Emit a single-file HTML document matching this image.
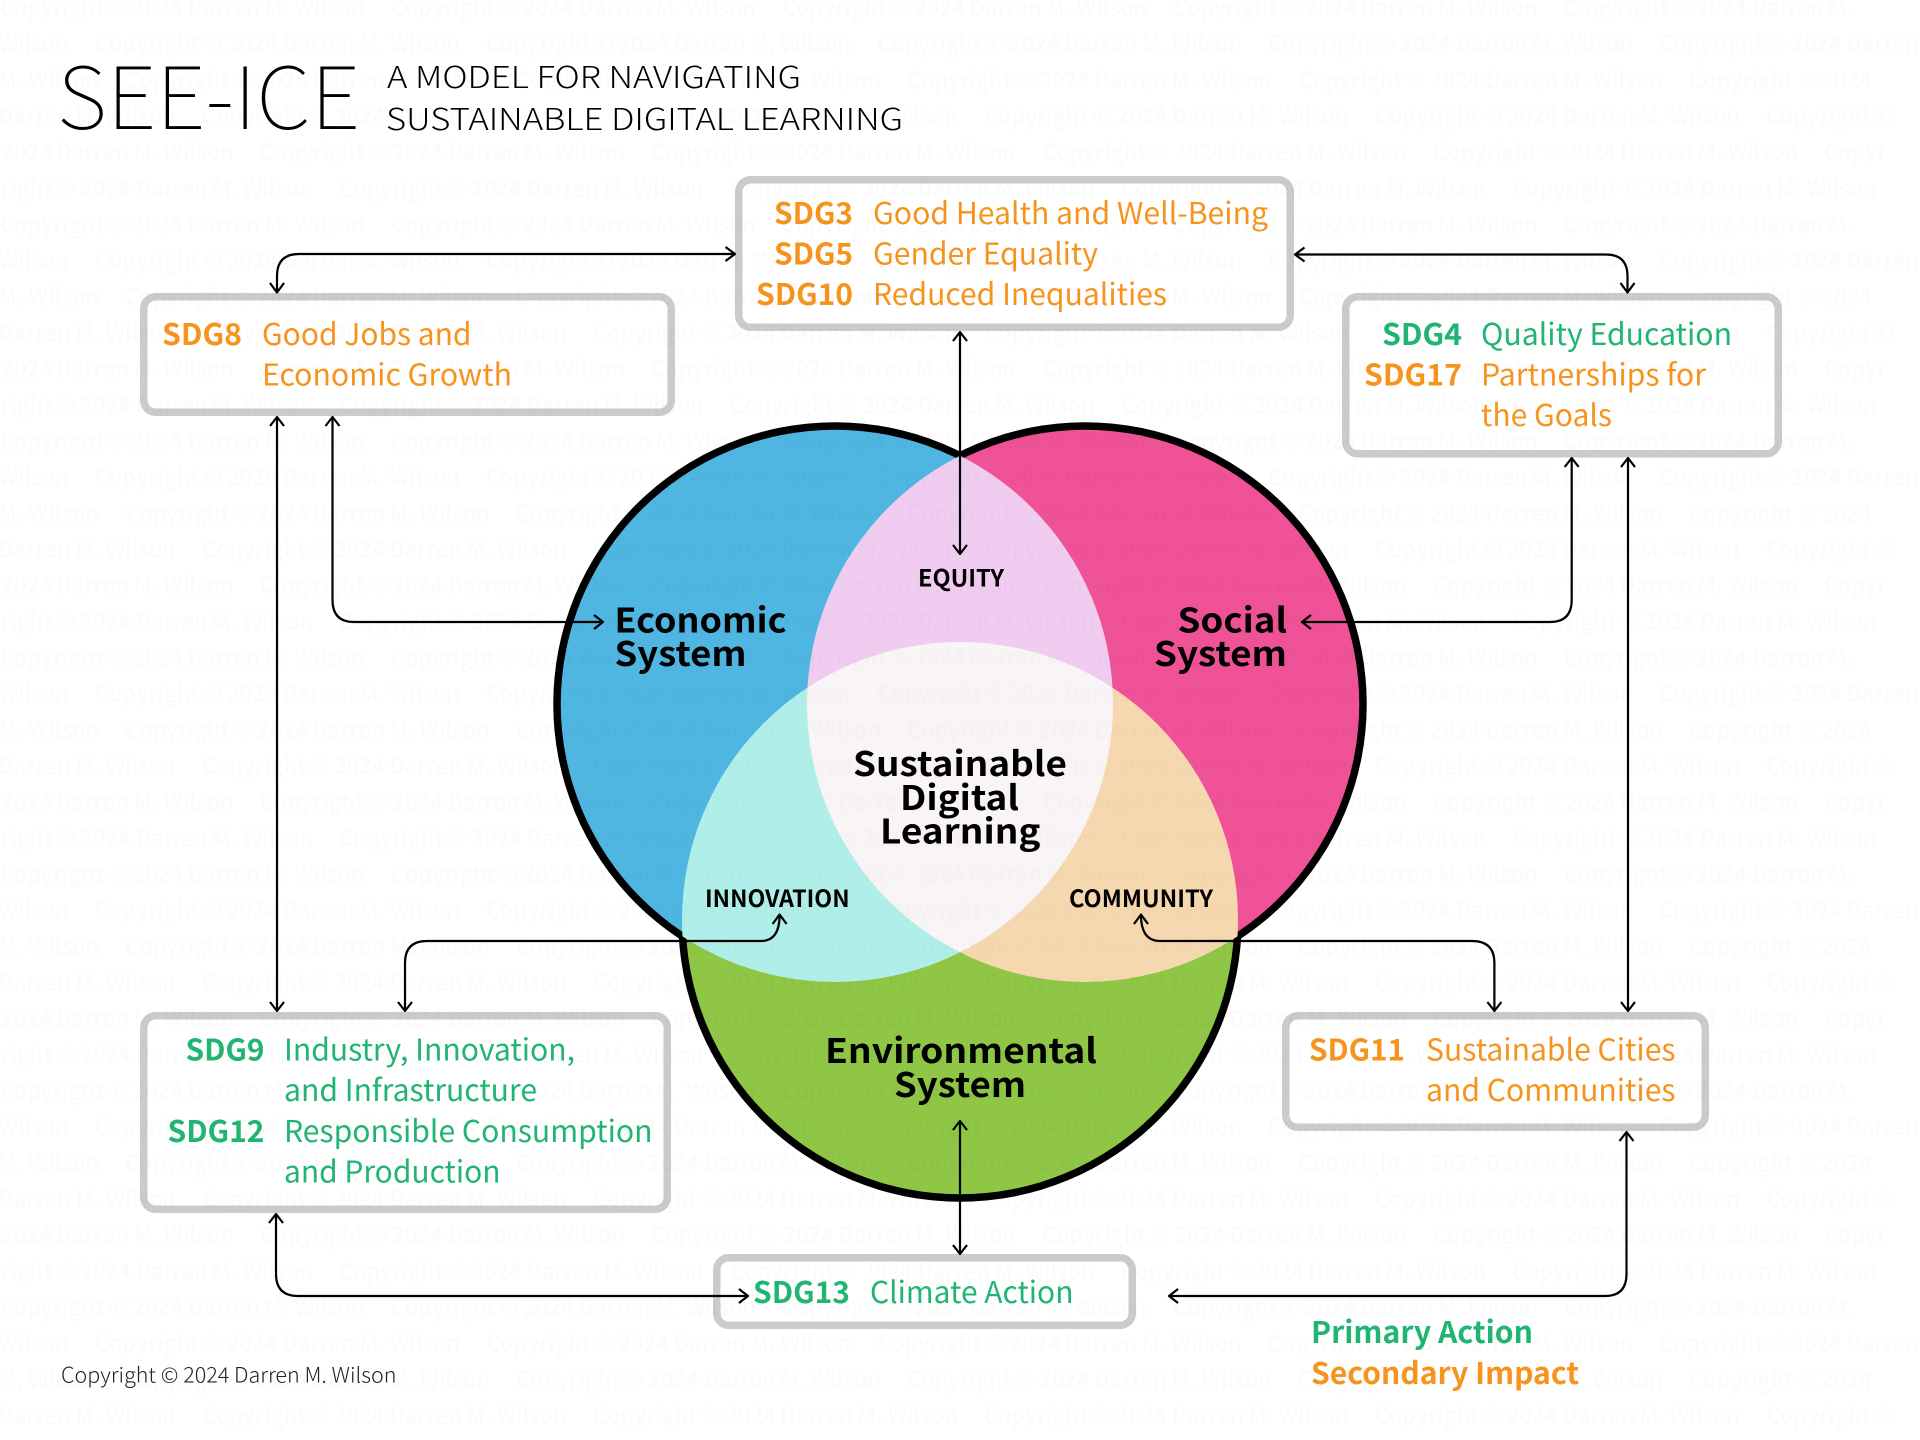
<!DOCTYPE html>
<html lang="en"><head><meta charset="utf-8"><title>SEE-ICE</title>
<style>
html,body{margin:0;padding:0;background:#fff}
svg{display:block}
text{font-family:"Noto Sans CJK JP","Liberation Sans",sans-serif}
.o{fill:#F7941E}.g{fill:#21B573}
.s{font-size:30px}
.b{font-size:30px;font-weight:700;text-anchor:end}
.k{font-size:34px;font-weight:700;fill:#000}
.u{font-size:23.5px;font-weight:700;fill:#000}
.w{font-size:23px;font-weight:700;fill:#000}
</style></head><body>
<svg width="1920" height="1440" viewBox="0 0 1920 1440" xmlns="http://www.w3.org/2000/svg">
<defs>
<clipPath id="cA"><circle cx="835" cy="704" r="278"/></clipPath>
<clipPath id="cB"><circle cx="1085" cy="704" r="278"/></clipPath>
<clipPath id="cC"><circle cx="960" cy="920" r="278"/></clipPath>
<pattern id="wm" patternUnits="userSpaceOnUse" x="0" y="0" width="391" height="216.6">
<text class="w" x="0" y="16" textLength="365" lengthAdjust="spacingAndGlyphs">Copyright © 2024 Darren M. Wilson</text>
<text class="w" x="95" y="52.1" textLength="365" lengthAdjust="spacingAndGlyphs">Copyright © 2024 Darren M. Wilson</text>
<text class="w" x="-296" y="52.1" textLength="365" lengthAdjust="spacingAndGlyphs">Copyright © 2024 Darren M. Wilson</text>
<text class="w" x="125" y="88.2" textLength="365" lengthAdjust="spacingAndGlyphs">Copyright © 2024 Darren M. Wilson</text>
<text class="w" x="-266" y="88.2" textLength="365" lengthAdjust="spacingAndGlyphs">Copyright © 2024 Darren M. Wilson</text>
<text class="w" x="202" y="124.3" textLength="365" lengthAdjust="spacingAndGlyphs">Copyright © 2024 Darren M. Wilson</text>
<text class="w" x="-189" y="124.3" textLength="365" lengthAdjust="spacingAndGlyphs">Copyright © 2024 Darren M. Wilson</text>
<text class="w" x="260" y="160.4" textLength="365" lengthAdjust="spacingAndGlyphs">Copyright © 2024 Darren M. Wilson</text>
<text class="w" x="-131" y="160.4" textLength="365" lengthAdjust="spacingAndGlyphs">Copyright © 2024 Darren M. Wilson</text>
<text class="w" x="339" y="196.5" textLength="365" lengthAdjust="spacingAndGlyphs">Copyright © 2024 Darren M. Wilson</text>
<text class="w" x="-52" y="196.5" textLength="365" lengthAdjust="spacingAndGlyphs">Copyright © 2024 Darren M. Wilson</text>
</pattern>
<pattern id="wmask" patternUnits="userSpaceOnUse" x="0" y="0" width="1920" height="216.6">
<rect x="1855" y="0" width="65" height="27" fill="#fff"/>
<rect x="1871" y="63" width="49" height="36" fill="#fff"/>
<rect x="1893" y="99" width="27" height="36" fill="#fff"/>
<rect x="1883" y="135" width="37" height="36" fill="#fff"/>
<rect x="1877" y="171" width="43" height="45.600" fill="#fff"/>
</pattern>
</defs>
<rect width="1920" height="1440" fill="#fff"/>

<!-- Title -->
<text x="57" y="129" font-size="86" font-weight="100" fill="#000" textLength="303" lengthAdjust="spacingAndGlyphs">SEE-ICE</text>
<text x="387" y="88" font-size="30" font-weight="300" fill="#000" textLength="414" lengthAdjust="spacingAndGlyphs">A MODEL FOR NAVIGATING</text>
<text x="386" y="130" font-size="30" font-weight="300" fill="#000" textLength="517" lengthAdjust="spacingAndGlyphs">SUSTAINABLE DIGITAL LEARNING</text>

<!-- Venn -->
<circle cx="835" cy="704" r="281.75" fill="#000"/>
<circle cx="1085" cy="704" r="281.75" fill="#000"/>
<circle cx="960" cy="920" r="281.75" fill="#000"/>
<circle cx="835" cy="704" r="274.25" fill="#4FB6E1"/>
<circle cx="1085" cy="704" r="274.25" fill="#EF5297"/>
<circle cx="960" cy="920" r="274.25" fill="#8FC645"/>
<g clip-path="url(#cA)"><circle cx="1085" cy="704" r="278" fill="#F0CDF0"/></g>
<g clip-path="url(#cA)"><circle cx="960" cy="920" r="278" fill="#B0EFE9"/></g>
<g clip-path="url(#cB)"><circle cx="960" cy="920" r="278" fill="#F6D8B0"/></g>
<g clip-path="url(#cA)"><g clip-path="url(#cB)"><circle cx="960" cy="920" r="278" fill="#F9F4F5"/></g></g>

<!-- Boxes -->
<g fill="#fff" stroke="#CBCBCB" stroke-width="7.5">
<rect x="738.75" y="179.75" width="551.5" height="147.5" rx="12"/>
<rect x="143.75" y="296.75" width="527.5" height="115.5" rx="12"/>
<rect x="1345.75" y="296.75" width="432.5" height="157" rx="12"/>
<rect x="143.75" y="1015.75" width="523.5" height="193.5" rx="12"/>
<rect x="1285.75" y="1015.75" width="419.5" height="111.5" rx="12"/>
<rect x="716.75" y="1257.75" width="415.5" height="67.5" rx="12"/>
</g>

<!-- Connectors -->
<g fill="none" stroke="#000" stroke-width="2.2" stroke-linejoin="round">
<path d="M277 292V276Q277 254 299 254H735"/><path d="M270 283L277 292.5L284 283M725.500 247L735 254L725.500 261"/>
<path d="M1295 254.500H1606Q1627.500 254.500 1627.500 276V292"/><path d="M1304.500 247.500L1295 254.500L1304.500 261.500M1620.500 283L1627.500 292.500L1634.500 283"/>
<path d="M960 332V554"/><path d="M953 341L960 332L967 341M953 545L960 554L967 545"/>
<path d="M332.500 417V600Q332.500 622 354 622H603"/><path d="M325.500 426L332.500 417L339.500 426M594 615L603 622L594 629"/>
<path d="M277 417V1011"/><path d="M270 426L277 417L284 426M270 1002L277 1011L284 1002"/>
<path d="M1571.700 458V600Q1571.700 622 1550 622H1302"/><path d="M1564.700 467L1571.700 458L1578.700 467M1311 615L1302 622L1311 629"/>
<path d="M1628 458V1011"/><path d="M1621 467L1628 458L1635 467M1621 1002L1628 1011L1635 1002"/>
<path d="M405 1011V963Q405 941 427 941H761Q779.600 941 779.600 915"/><path d="M398 1002L405 1011L412 1002M772.600 924L779.600 914.500L786.600 924"/>
<path d="M1494.400 1011V963Q1494.400 941 1472 941H1160Q1141 941 1141 915"/><path d="M1487.400 1002L1494.400 1011L1501.400 1002M1134 924L1141 914.500L1148 924"/>
<path d="M960 1121V1254"/><path d="M953 1130L960 1121L967 1130M953 1245L960 1254L967 1245"/>
<path d="M276 1214V1274Q276 1296 298 1296H748"/><path d="M269 1223L276 1214L283 1223M739 1289L748 1296L739 1303"/>
<path d="M1626.500 1132V1274Q1626.500 1296 1605 1296H1169"/><path d="M1619.500 1141L1626.500 1132L1633.500 1141M1178 1289L1169 1296L1178 1303"/>
</g>

<!-- SDG3 / 5 / 10 -->
<text class="b o" x="853" y="224" textLength="79" lengthAdjust="spacingAndGlyphs">SDG3</text>
<text class="b o" x="853" y="264.500" textLength="79" lengthAdjust="spacingAndGlyphs">SDG5</text>
<text class="b o" x="853" y="305" textLength="97" lengthAdjust="spacingAndGlyphs">SDG10</text>
<text class="s o" x="873" y="224" textLength="395" lengthAdjust="spacingAndGlyphs">Good Health and Well-Being</text>
<text class="s o" x="873" y="264.500" textLength="225" lengthAdjust="spacingAndGlyphs">Gender Equality</text>
<text class="s o" x="873" y="305" textLength="294" lengthAdjust="spacingAndGlyphs">Reduced Inequalities</text>

<!-- SDG8 -->
<text class="b o" x="242" y="345" textLength="80" lengthAdjust="spacingAndGlyphs">SDG8</text>
<text class="s o" x="262" y="345" textLength="209.500" lengthAdjust="spacingAndGlyphs">Good Jobs and</text>
<text class="s o" x="262" y="385.500" textLength="250" lengthAdjust="spacingAndGlyphs">Economic Growth</text>

<!-- SDG4 / 17 -->
<text class="b g" x="1462" y="345" textLength="80" lengthAdjust="spacingAndGlyphs">SDG4</text>
<text class="s g" x="1481" y="345" textLength="251" lengthAdjust="spacingAndGlyphs">Quality Education</text>
<text class="b o" x="1462" y="385.500" textLength="98" lengthAdjust="spacingAndGlyphs">SDG17</text>
<text class="s o" x="1481" y="385.500" textLength="225" lengthAdjust="spacingAndGlyphs">Partnerships for</text>
<text class="s o" x="1481" y="426" textLength="131" lengthAdjust="spacingAndGlyphs">the Goals</text>

<!-- SDG9 / 12 -->
<text class="b g" x="264.500" y="1060.500" textLength="79" lengthAdjust="spacingAndGlyphs">SDG9</text>
<text class="s g" x="284" y="1060.500" textLength="291" lengthAdjust="spacingAndGlyphs">Industry, Innovation,</text>
<text class="s g" x="284" y="1101" textLength="253" lengthAdjust="spacingAndGlyphs">and Infrastructure</text>
<text class="b g" x="264.500" y="1142" textLength="97" lengthAdjust="spacingAndGlyphs">SDG12</text>
<text class="s g" x="284" y="1142" textLength="368.500" lengthAdjust="spacingAndGlyphs">Responsible Consumption</text>
<text class="s g" x="284" y="1182.500" textLength="216.500" lengthAdjust="spacingAndGlyphs">and Production</text>

<!-- SDG11 -->
<text class="b o" x="1405" y="1060.500" textLength="96" lengthAdjust="spacingAndGlyphs">SDG11</text>
<text class="s o" x="1426" y="1060.500" textLength="249.500" lengthAdjust="spacingAndGlyphs">Sustainable Cities</text>
<text class="s o" x="1426" y="1101" textLength="249.500" lengthAdjust="spacingAndGlyphs">and Communities</text>

<!-- SDG13 -->
<text class="b g" x="850" y="1303" textLength="97" lengthAdjust="spacingAndGlyphs">SDG13</text>
<text class="s g" x="870" y="1303" textLength="203.500" lengthAdjust="spacingAndGlyphs">Climate Action</text>

<!-- Legend / copyright -->
<text x="1311" y="1343" font-size="30" font-weight="700" class="g" textLength="222" lengthAdjust="spacingAndGlyphs">Primary Action</text>
<text x="1311" y="1384" font-size="30" font-weight="700" class="o" textLength="268" lengthAdjust="spacingAndGlyphs">Secondary Impact</text>
<text x="61" y="1382.500" font-size="21" font-weight="300" fill="#222" textLength="335.500" lengthAdjust="spacingAndGlyphs">Copyright © 2024 Darren M. Wilson</text>

<!-- Venn labels -->
<text class="k" x="614.500" y="632.500" textLength="172" lengthAdjust="spacingAndGlyphs">Economic</text>
<text class="k" x="614.500" y="666" textLength="132" lengthAdjust="spacingAndGlyphs">System</text>
<text class="k" x="1177.500" y="632.500" textLength="109.500" lengthAdjust="spacingAndGlyphs">Social</text>
<text class="k" x="1154" y="666" textLength="133" lengthAdjust="spacingAndGlyphs">System</text>
<text class="u" x="918" y="586.500" textLength="86" lengthAdjust="spacingAndGlyphs">EQUITY</text>
<text class="k" x="853" y="776" textLength="214" lengthAdjust="spacingAndGlyphs">Sustainable</text>
<text class="k" x="900" y="810" textLength="119" lengthAdjust="spacingAndGlyphs">Digital</text>
<text class="k" x="880" y="843.500" textLength="160.500" lengthAdjust="spacingAndGlyphs">Learning</text>
<text class="u" x="705" y="907" textLength="144.600" lengthAdjust="spacingAndGlyphs">INNOVATION</text>
<text class="u" x="1069" y="907" textLength="144" lengthAdjust="spacingAndGlyphs">COMMUNITY</text>
<text class="k" x="825" y="1063" textLength="272" lengthAdjust="spacingAndGlyphs">Environmental</text>
<text class="k" x="894" y="1097" textLength="132" lengthAdjust="spacingAndGlyphs">System</text>

<!-- Watermark -->
<rect width="1920" height="1440" fill="url(#wm)" opacity="0.014"/>
<rect x="1855" width="65" height="1440" fill="url(#wmask)"/>
</svg>
</body></html>
